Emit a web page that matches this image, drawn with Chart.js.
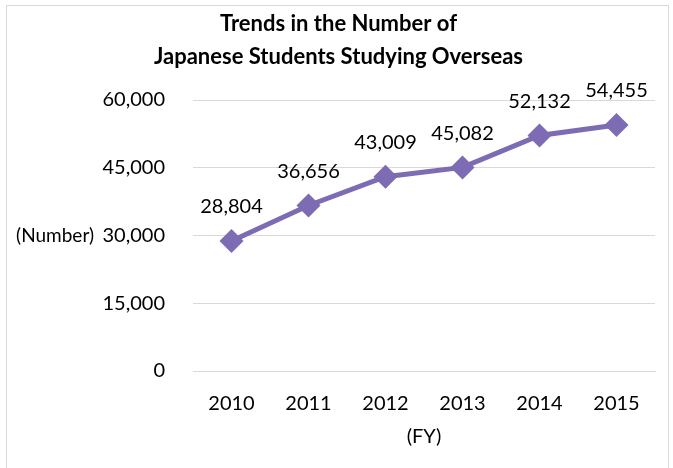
<!DOCTYPE html>
<html>
<head>
<meta charset="utf-8">
<script src="https://cdn.jsdelivr.net/npm/chart.js@4.4.0/dist/chart.umd.min.js"></script>
<style>
  html, body { margin: 0; padding: 0; background: #fff; }
  #wrap { position: relative; width: 673px; height: 468px; overflow: hidden; }
  #frame { position: absolute; left: 6px; top: 5px; width: 663px; height: 480px; border: 1px solid #d9d9d9; box-sizing: border-box; }
  canvas { position: absolute; left: 0; top: 0; }
</style>
</head>
<body>
<div id="wrap">
  <div id="frame"></div>
  <canvas id="studyChart" width="673" height="468"></canvas>
</div>
<script>
// values
const years = ['2010', '2011', '2012', '2013', '2014', '2015'];
const students = [28804, 36656, 43009, 45082, 52132, 54455];
const yTicks = [0, 15000, 30000, 45000, 60000];

const FONT = 'Lato, "Liberation Sans", sans-serif';
const lineColor = '#7d6bb3';

// value labels above the points, plus the "(Number)" and "(FY)" unit labels
const valueLabels = {
    id: 'valueLabels',
    afterDatasetsDraw(chart) {
        const ctx = chart.ctx;
        const meta = chart.getDatasetMeta(0);
        const area = chart.chartArea;
        ctx.save();
        ctx.font = '20px ' + FONT;
        ctx.fillStyle = '#000';
        ctx.textAlign = 'center';
        ctx.textBaseline = 'middle';
        meta.data.forEach((pt, i) => {
            ctx.fillText(students[i].toLocaleString('en-US'), pt.x, pt.y - 34);
        });
        ctx.fillText('(FY)', (area.left + area.right) / 2, area.bottom + 66);
        const yScale = chart.scales.y;
        ctx.font = '19px ' + FONT;
        ctx.textAlign = 'right';
        ctx.fillText('(Number)', 94, yScale.getPixelForValue(30000));
        ctx.restore();
    }
};

const ctx = document.getElementById('studyChart').getContext('2d');
new Chart(ctx, {
    type: 'line',
    data: {
        labels: years,
        datasets: [{
            data: students,
            borderColor: lineColor,
            backgroundColor: lineColor,
            borderWidth: 5,
            pointStyle: 'rectRot',
            pointRadius: 12,
            pointHoverRadius: 12,
            pointBackgroundColor: lineColor,
            pointBorderColor: lineColor,
            pointBorderWidth: 0,
            tension: 0
        }]
    },
    options: {
        responsive: false,
        animation: false,
        layout: { padding: { left: 22, right: 18, top: 0, bottom: 31 } },
        plugins: {
            legend: { display: false },
            tooltip: { enabled: false },
            title: {
                display: true,
                text: ['Trends in the Number of', 'Japanese Students Studying Overseas'],
                color: '#000',
                font: { family: FONT, size: 22, weight: 'bold', lineHeight: '33px' },
                padding: { top: 7, bottom: 27 }
            }
        },
        scales: {
            x: {
                offset: true,
                grid: { display: false, drawTicks: false },
                border: { color: '#d9d9d9', width: 1 },
                ticks: { color: '#000', font: { family: FONT, size: 20 }, padding: 21 }
            },
            y: {
                min: 0,
                max: 60000,
                afterBuildTicks: scale => { scale.ticks = yTicks.map(v => ({ value: v })); },
                afterFit: scale => { scale.width = 171; },
                grid: { color: '#d9d9d9', drawTicks: false, lineWidth: 1 },
                border: { display: false },
                ticks: {
                    color: '#000',
                    font: { family: FONT, size: 20 },
                    padding: 28,
                    callback: v => v.toLocaleString('en-US')
                }
            }
        }
    },
    plugins: [valueLabels]
});
</script>
</body>
</html>
